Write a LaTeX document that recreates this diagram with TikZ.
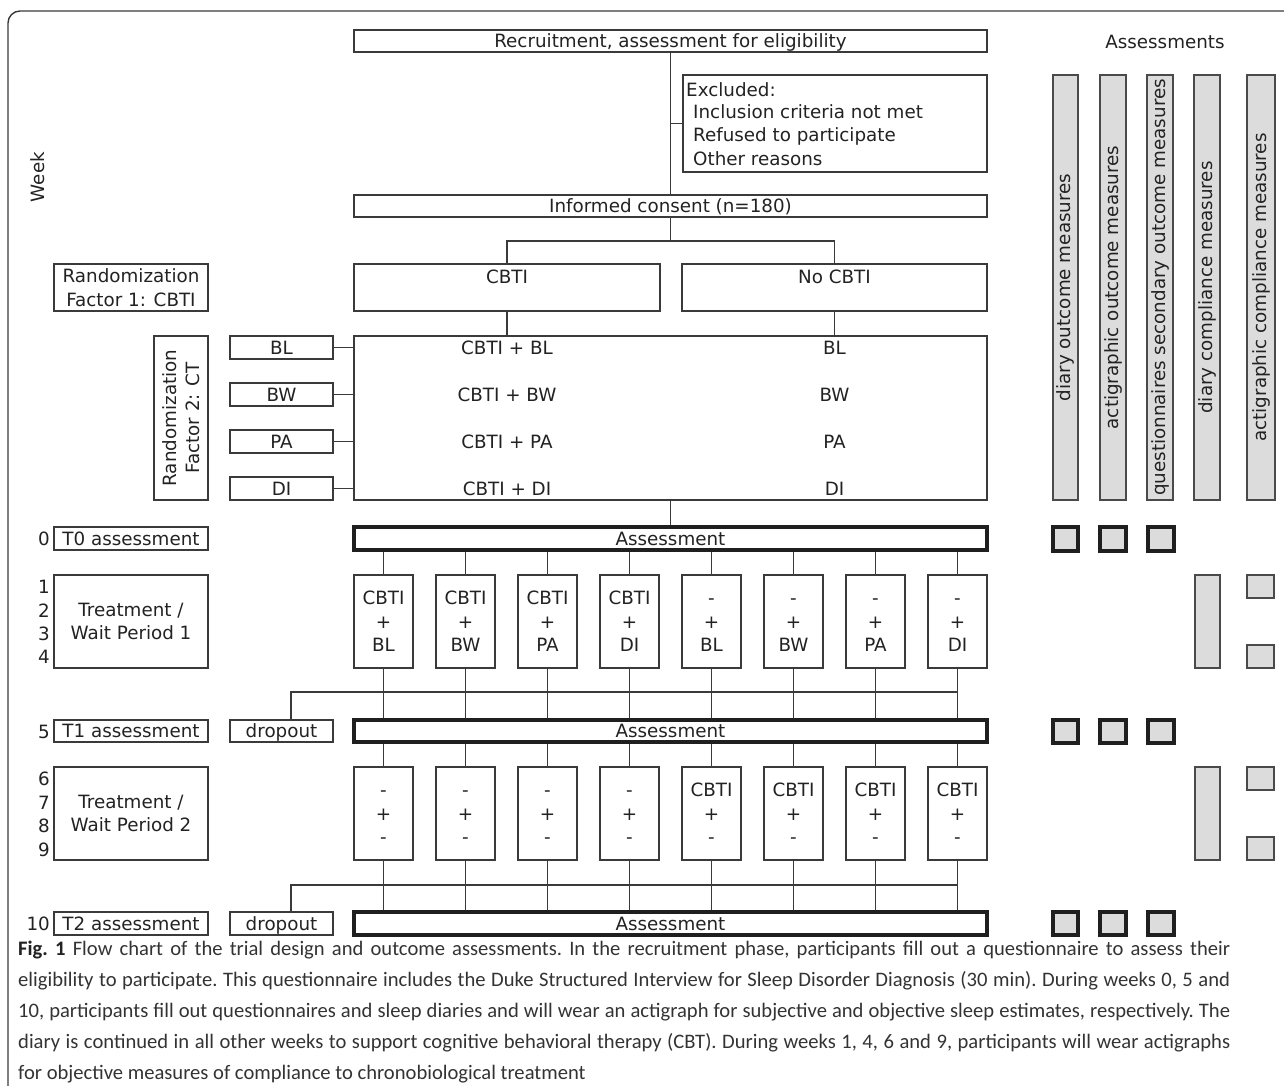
\documentclass[tikz,border=0pt]{standalone}
\usepackage{fontspec}
\setmainfont{DejaVu Sans}
\newfontfamily\capfont{Carlito}
\definecolor{lc}{HTML}{3A3A3A}
\definecolor{tc}{HTML}{222222}
\definecolor{barfill}{HTML}{DCDCDC}
\definecolor{bard}{HTML}{4A4A4A}
\definecolor{capc}{HTML}{333333}
\newcommand\dfont{\fontsize{18.3}{23.4}\selectfont}
\newcommand\bx[7]{\node[#6, minimum width={#4-#2}, minimum height={#5-#3}] (#1) at ({(#2+#4)/2},{(#3+#5)/2}) {#7};}
\begin{document}
\begin{tikzpicture}[x=1pt,y=-1pt,
  box/.style={draw=lc, line width=1.3pt, inner sep=0pt, text=tc, font=\dfont},
  one/.style={text height=13.3pt, text depth=0pt},
  thickbox/.style={box, one, line width=3.8pt, draw=black!88},
  txt/.style={inner sep=0pt, text=tc, font=\dfont, one},
  conn/.style={draw=lc, line width=1.1pt},
  bar/.style={draw=bard, fill=barfill, line width=1.3pt, inner sep=0pt},
  sqr/.style={draw=black!88, fill=barfill, line width=3.5pt, inner sep=0pt},
  btxt/.style={inner sep=0pt, text=tc, font=\dfont, rotate=90}]
\useasboundingbox (0,0) rectangle (1284,1086);
% frame
\draw[lc, line width=1.4pt, rounded corners=12pt] (8,1100) -- (8,11) -- (1300,11);

% top part
\bx{rec}{354}{30}{987}{52}{box,one}{Recruitment, assessment for eligibility}
\bx{exc}{683}{75}{987}{172}{box}{}
\node[txt, anchor=west] (ex1) at (686,90) {Excluded:};
\node[txt, anchor=west] (ex2) at (693,112) {Inclusion criteria not met};
\node[txt, anchor=west] (ex3) at (693,135) {Refused to participate};
\node[txt, anchor=west] (ex4) at (693,159) {Other reasons};
\bx{ic}{354}{195}{987}{217}{box,one}{Informed consent (n=180)}
\node[txt] (assh) at (1165,42) {Assessments};
\node[txt, rotate=90] (week) at (38,177) {Week};

\bx{cb}{354}{264}{660}{311}{box}{}
\node[txt] (cbt) at (cb.center |- 0,277) {CBTI};
\bx{nc}{682}{264}{987}{311}{box}{}
\node[txt] (nct) at (nc.center |- 0,277) {No CBTI};
\bx{r1}{54}{264}{208}{311}{box,align=center}{Randomization\\Factor 1: CBTI}

\bx{big}{354}{336}{987}{500}{box}{}
\foreach \n/\yy in {BL/348,BW/395,PA/442,DI/489}{
  \node[txt] (l\n) at (cb.center |- 0,\yy) {CBTI + \n};
  \node[txt] (r\n) at (nc.center |- 0,\yy) {\n};
}
\bx{bl}{230}{336}{333}{359}{box,one}{BL}
\bx{bw}{230}{383}{333}{406}{box,one}{BW}
\bx{pa}{230}{430}{333}{453}{box,one}{PA}
\bx{di}{230}{477}{333}{500}{box,one}{DI}
\node[box, rotate=90, minimum width=164pt, minimum height=54pt, align=center] (r2) at (181,418) {Randomization\\Factor 2: CT};

% connectors top
\draw[conn] (rec.south) -- (ic.north);
\draw[conn] (rec.south |- exc.west) -- (exc.west);
\coordinate (split) at (670.5,241);
\draw[conn] (ic.south) -- (split);
\draw[conn] (cb.north) |- (split) -| (nc.north);
\draw[conn] (cb.south) -- (cb.south |- big.north);
\draw[conn] (nc.south) -- (nc.south |- big.north);
\foreach \s in {bl,bw,pa,di}{\draw[conn] (\s.east) -- (\s.east -| big.west);}

% T0
\node[txt, anchor=east] (w0) at (50,538.5) {0};
\bx{t0}{54}{527}{208}{550}{box,one}{T0 assessment}
\bx{a0}{354}{527}{987}{550}{thickbox}{Assessment}
\draw[conn] (big.south) -- (a0.north);

% period 1
\foreach \i/\t in {0/{CBTI\\+\\BL},1/{CBTI\\+\\BW},2/{CBTI\\+\\PA},3/{CBTI\\+\\DI},4/{\vphantom{B}-\\+\\BL},5/{\vphantom{B}-\\+\\BW},6/{\vphantom{B}-\\+\\PA},7/{\vphantom{B}-\\+\\DI}}{
  \pgfmathsetmacro\xl{354+82*\i}
  \pgfmathsetmacro\xr{\xl+59}
  \bx{p\i}{\xl}{575}{\xr}{668}{box,align=center}{\t}
}
\bx{tw1}{54}{575}{208}{668}{box,align=center}{Treatment /\\Wait Period 1}
\foreach \k/\yy in {1/587,2/610.5,3/634,4/657}{\node[txt, anchor=east] (wn\k) at (50,\yy) {\k};}

% T1
\node[txt, anchor=east] (w5) at (50,731.5) {5};
\bx{t1}{54}{720}{208}{742}{box,one}{T1 assessment}
\bx{do1}{230}{720}{333}{742}{box,one}{dropout}
\bx{a1}{354}{720}{987}{742}{thickbox}{Assessment}

% period 2
\foreach \i/\t in {0/{\vphantom{B}-\\+\\-},1/{\vphantom{B}-\\+\\-},2/{\vphantom{B}-\\+\\-},3/{\vphantom{B}-\\+\\-},4/{CBTI\\+\\-},5/{CBTI\\+\\-},6/{CBTI\\+\\-},7/{CBTI\\+\\-}}{
  \pgfmathsetmacro\xl{354+82*\i}
  \pgfmathsetmacro\xr{\xl+59}
  \bx{q\i}{\xl}{767}{\xr}{860}{box,align=center}{\t}
}
\bx{tw2}{54}{767}{208}{860}{box,align=center}{Treatment /\\Wait Period 2}
\foreach \k/\yy in {6/779,7/803,8/826,9/850}{\node[txt, anchor=east] (wn\k) at (50,\yy) {\k};}

% T2
\node[txt, anchor=east] (w10) at (50,923.5) {10};
\bx{t2}{54}{912}{208}{935}{box,one}{T2 assessment}
\bx{do2}{230}{912}{333}{935}{box,one}{dropout}
\bx{a2}{354}{912}{987}{935}{thickbox}{Assessment}

% vertical connectors
\foreach \i in {0,...,7}{
  \draw[conn] (p\i.north |- a0.south) -- (p\i.north);
  \draw[conn] (p\i.south) -- (p\i.south |- a1.north);
  \draw[conn] (q\i.north |- a1.south) -- (q\i.north);
  \draw[conn] (q\i.south) -- (q\i.south |- a2.north);
}
\coordinate (d1) at (291,692);
\coordinate (d2) at (291,885);
\draw[conn] (do1.north -| d1) -- (d1) -- (d1 -| p7.south);
\draw[conn] (do2.north -| d2) -- (d2) -- (d2 -| q7.south);

% assessment bars
\bx{b1}{1053}{75}{1078}{500}{bar}{}
\bx{b2}{1100}{75}{1126}{500}{bar}{}
\bx{b3}{1147}{75}{1173}{500}{bar}{}
\bx{b4}{1194}{75}{1220}{500}{bar}{}
\bx{b5}{1247}{75}{1275}{500}{bar}{}
\node[btxt] (bt1) at (b1.center) {diary outcome measures};
\node[btxt] (bt2) at (b2.center) {actigraphic outcome measures};
\node[btxt] (bt3) at (b3.center) {questionnaires secondary outcome measures};
\node[btxt] (bt4) at (b4.center) {diary compliance measures};
\node[btxt] (bt5) at (b5.center) {actigraphic compliance measures};

\foreach \r/\ya/\yb in {0/527/551,1/720/743,2/912/935}{
  \bx{s\r a}{1053}{\ya}{1078}{\yb}{sqr}{}
  \bx{s\r b}{1100}{\ya}{1126}{\yb}{sqr}{}
  \bx{s\r c}{1148}{\ya}{1174}{\yb}{sqr}{}
}
\bx{c1}{1195}{575}{1220}{668}{bar}{}
\bx{c1a}{1247}{575}{1274}{598}{bar}{}
\bx{c1b}{1247}{645}{1274}{668}{bar}{}
\bx{c2}{1195}{767}{1220}{860}{bar}{}
\bx{c2a}{1247}{767}{1274}{790}{bar}{}
\bx{c2b}{1247}{837}{1274}{860}{bar}{}

% caption
\node[anchor=north west, inner sep=0pt, text width=1212pt, align=justify, text=capc,
  font=\capfont\fontsize{20.6}{31}\selectfont\frenchspacing] (cap) at (18,941)
{\textbf{\color{tc}Fig.~1} Flow chart of the trial design and outcome assessments. In the recruitment phase, participants fill out a questionnaire to assess their\linebreak
eligibility to participate. This questionnaire includes the Duke Structured Interview for Sleep Disorder Diagnosis (30 min). During weeks 0, 5 and\linebreak
10, participants fill out questionnaires and sleep diaries and will wear an actigraph for subjective and objective sleep estimates, respectively. The\linebreak
diary is continued in all other weeks to support cognitive behavioral therapy (CBT). During weeks 1, 4, 6 and 9, participants will wear actigraphs\linebreak
for objective measures of compliance to chronobiological treatment};
\end{tikzpicture}
\end{document}
